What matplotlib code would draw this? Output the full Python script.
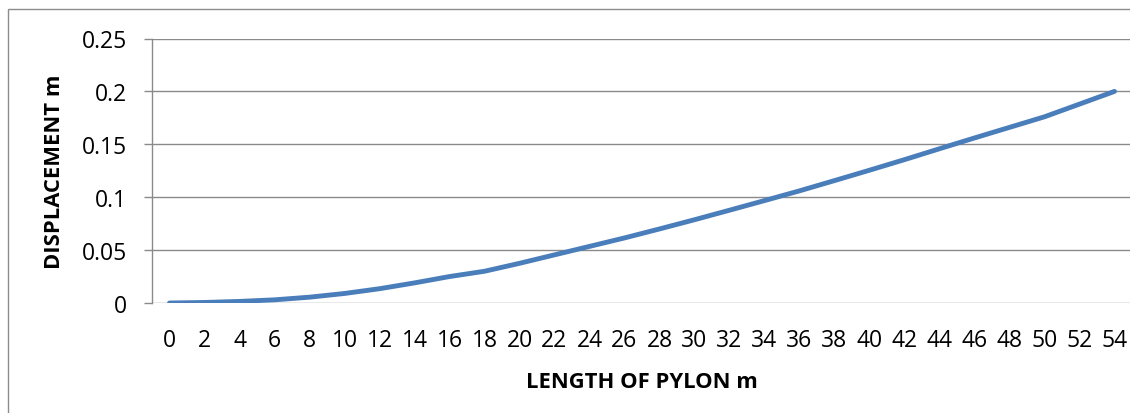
import matplotlib
matplotlib.use("Agg")
import matplotlib.pyplot as plt
from matplotlib.patches import Rectangle

# Pylon length (m) and lateral displacement (m)
length_m = [0, 2, 4, 6, 8, 10, 12, 14, 16, 18, 20, 22, 24, 26,
            28, 30, 32, 34, 36, 38, 40, 42, 44, 46, 48, 50, 52, 54]
displacement_m = [0.0, 0.0005, 0.0015, 0.003, 0.0055, 0.009, 0.0135, 0.019,
                  0.025, 0.030, 0.0375, 0.0455, 0.0535, 0.0615, 0.070, 0.0787,
                  0.0877, 0.0968, 0.106, 0.1157, 0.1255, 0.1355, 0.1458, 0.156,
                  0.166, 0.176, 0.188, 0.200]
y_ticks = [0, 0.05, 0.1, 0.15, 0.2, 0.25]
y_tick_labels = ["0", "0.05", "0.1", "0.15", "0.2", "0.25"]
x_title = "LENGTH OF PYLON m"
y_title = "DISPLACEMENT m"

W, H = 1130, 414
plt.rcParams["font.family"] = ["Open Sans", "DejaVu Sans"]
fig = plt.figure(figsize=(W / 100, H / 100), dpi=100)
fig.patch.set_facecolor("white")

# chart frame (only the left and top edges fall inside the image)
fig.add_artist(Rectangle((8 / W, -0.1), 1.2, (H - 10) / H + 0.1,
                         transform=fig.transFigure, fill=False,
                         edgecolor="#8c8c8c", linewidth=1.0))

left, top, bottom = 152, 39.5, 304
slot = 35.0
n = len(length_m)
ax = fig.add_axes([left / W, (H - bottom) / H, n * slot / W, (bottom - top) / H])

grid_color = "#8a8a8a"
for yv in y_ticks:
    ax.axhline(yv, color=grid_color, linewidth=1.0, zorder=1)

ax.plot(length_m, displacement_m, color="#4a7ebb", linewidth=3.5,
        solid_capstyle="round", solid_joinstyle="round", zorder=3)

ax.set_xlim(length_m[0] - 1, length_m[-1] + 1)
ax.set_ylim(0, 0.25)

for s in ["top", "right", "bottom"]:
    ax.spines[s].set_visible(False)
ax.spines["left"].set_color(grid_color)
ax.spines["left"].set_linewidth(1.0)

ax.set_yticks(y_ticks)
ax.set_yticklabels(y_tick_labels)
ax.tick_params(axis="y", length=6, width=1.0, color=grid_color, pad=12,
               labelsize=16.5, labelcolor="black", direction="out")
ax.set_xticks(length_m)
ax.set_xticklabels([str(v) for v in length_m])
ax.tick_params(axis="x", length=0, pad=18, labelsize=16.5, labelcolor="black")

ax.set_xlabel(x_title, fontsize=15.8, fontweight="bold", labelpad=14)
ax.set_ylabel(y_title, fontsize=15.8, fontweight="bold", labelpad=12)
ax.set_facecolor("white")

fig.savefig("out.png", dpi=100)
